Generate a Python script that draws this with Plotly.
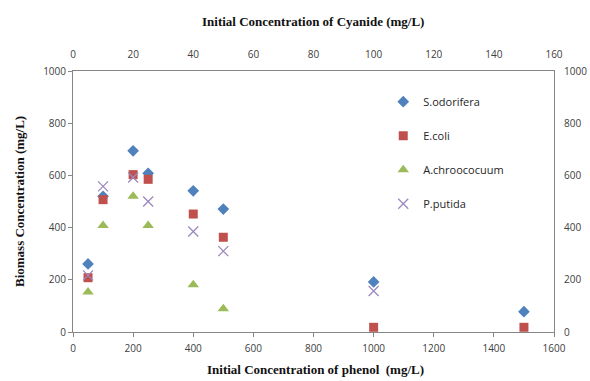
import plotly.graph_objects as go

phenol = [50, 100, 200, 250, 400, 500, 1000, 1500]
s_odorifera = [261, 520, 694, 608, 541, 471, 192, 78]
e_coli = [208, 507, 603, 585, 452, 363, 18, 18]
phenol_a = [50, 100, 200, 250, 400, 500]
a_chroococuum = [153, 408, 520, 408, 181, 89]
phenol_p = [50, 100, 200, 250, 400, 500, 1000]
p_putida = [217, 558, 592, 500, 385, 310, 157]

names = ["S.odorifera", "E.coli", "A.chroococuum", "P.putida"]
colors = ["#4F81BD", "#C0504D", "#9BBB59", "#8064A2"]

TICKFONT = dict(family="Open Sans, Lato, sans-serif", size=10, color="#404040")
TITLEFONT = dict(family="Liberation Serif, serif", size=13, color="#111111")
AXCOL = "#868686"

fig = go.Figure()
fig.add_trace(go.Scatter(x=phenol, y=s_odorifera, mode="markers", name=names[0], legendgroup="a",
                         marker=dict(symbol="diamond", size=9, color=colors[0])))
fig.add_trace(go.Scatter(x=phenol, y=e_coli, mode="markers", name=names[1], legendgroup="b",
                         marker=dict(symbol="square", size=9, color=colors[1])))
fig.add_trace(go.Scatter(x=phenol_a, y=a_chroococuum, mode="markers", name=names[2], legendgroup="c",
                         marker=dict(symbol="triangle-up", size=10, color=colors[2])))
fig.add_trace(go.Scatter(x=phenol_p, y=p_putida, mode="markers", name=names[3], legendgroup="d",
                         marker=dict(symbol="x-thin", size=10, color=colors[3],
                                     line=dict(width=1.3, color="#9C88BE"))))
# secondary axes holder
fig.add_trace(go.Scatter(x=[None], y=[None], xaxis="x2", yaxis="y2", showlegend=False,
                         mode="markers", hoverinfo="skip"))

fig.update_layout(
    width=590, height=381,
    margin=dict(l=73, r=36, t=71, b=49, autoexpand=False),
    paper_bgcolor="white", plot_bgcolor="white",
    showlegend=True,
    legend=dict(x=0.645, y=0.938, xanchor="left", yanchor="top",
                font=dict(family="Open Sans, Lato, sans-serif", size=11, color="#262626"),
                tracegroupgap=15, itemwidth=30, bgcolor="rgba(0,0,0,0)"),
    xaxis=dict(range=[0, 1600], dtick=200, tick0=0, showgrid=False, zeroline=False,
               showline=True, linecolor=AXCOL, linewidth=1, ticks="outside", ticklen=4,
               tickcolor=AXCOL, tickfont=TICKFONT, ticklabelstandoff=3, automargin=False),
    yaxis=dict(range=[0, 1000], dtick=200, tick0=0, showgrid=False, zeroline=False,
               showline=True, linecolor=AXCOL, linewidth=1, ticks="outside", ticklen=4,
               tickcolor=AXCOL, tickfont=TICKFONT, automargin=False),
    xaxis2=dict(range=[0, 160], dtick=20, tick0=0, overlaying="x", side="top", anchor="y2",
                showgrid=False, zeroline=False, showline=True, linecolor=AXCOL, linewidth=1,
                ticks="", tickfont=TICKFONT, ticklabelstandoff=8, automargin=False),
    yaxis2=dict(range=[0, 1000], dtick=200, tick0=0, overlaying="y", side="right", anchor="x2",
                showgrid=False, zeroline=False, showline=True, linecolor=AXCOL, linewidth=1,
                ticks="", tickfont=TICKFONT, ticklabelstandoff=7, automargin=False),
    annotations=[
        dict(text="<b>Initial Concentration of Cyanide (mg/L)</b>", x=313, y=381 - 22, xref="paper", yref="paper",
             xanchor="center", yanchor="middle", showarrow=False, font=TITLEFONT),
        dict(text="<b>Initial Concentration of phenol  (mg/L)</b>", x=315, y=381 - 369, xref="paper", yref="paper",
             xanchor="center", yanchor="middle", showarrow=False, font=TITLEFONT),
        dict(text="<b>Biomass Concentration (mg/L)</b>", x=19, y=381 - 202, xref="paper", yref="paper",
             xanchor="center", yanchor="middle", showarrow=False, textangle=-90, font=TITLEFONT),
    ],
)

# convert pixel positions of annotations to paper coordinates
pw, ph = 590 - 73 - 36, 381 - 71 - 49
for a in fig.layout.annotations:
    a.x = (a.x - 73) / pw
    a.y = (a.y - 49) / ph

fig.write_html("out.html")
